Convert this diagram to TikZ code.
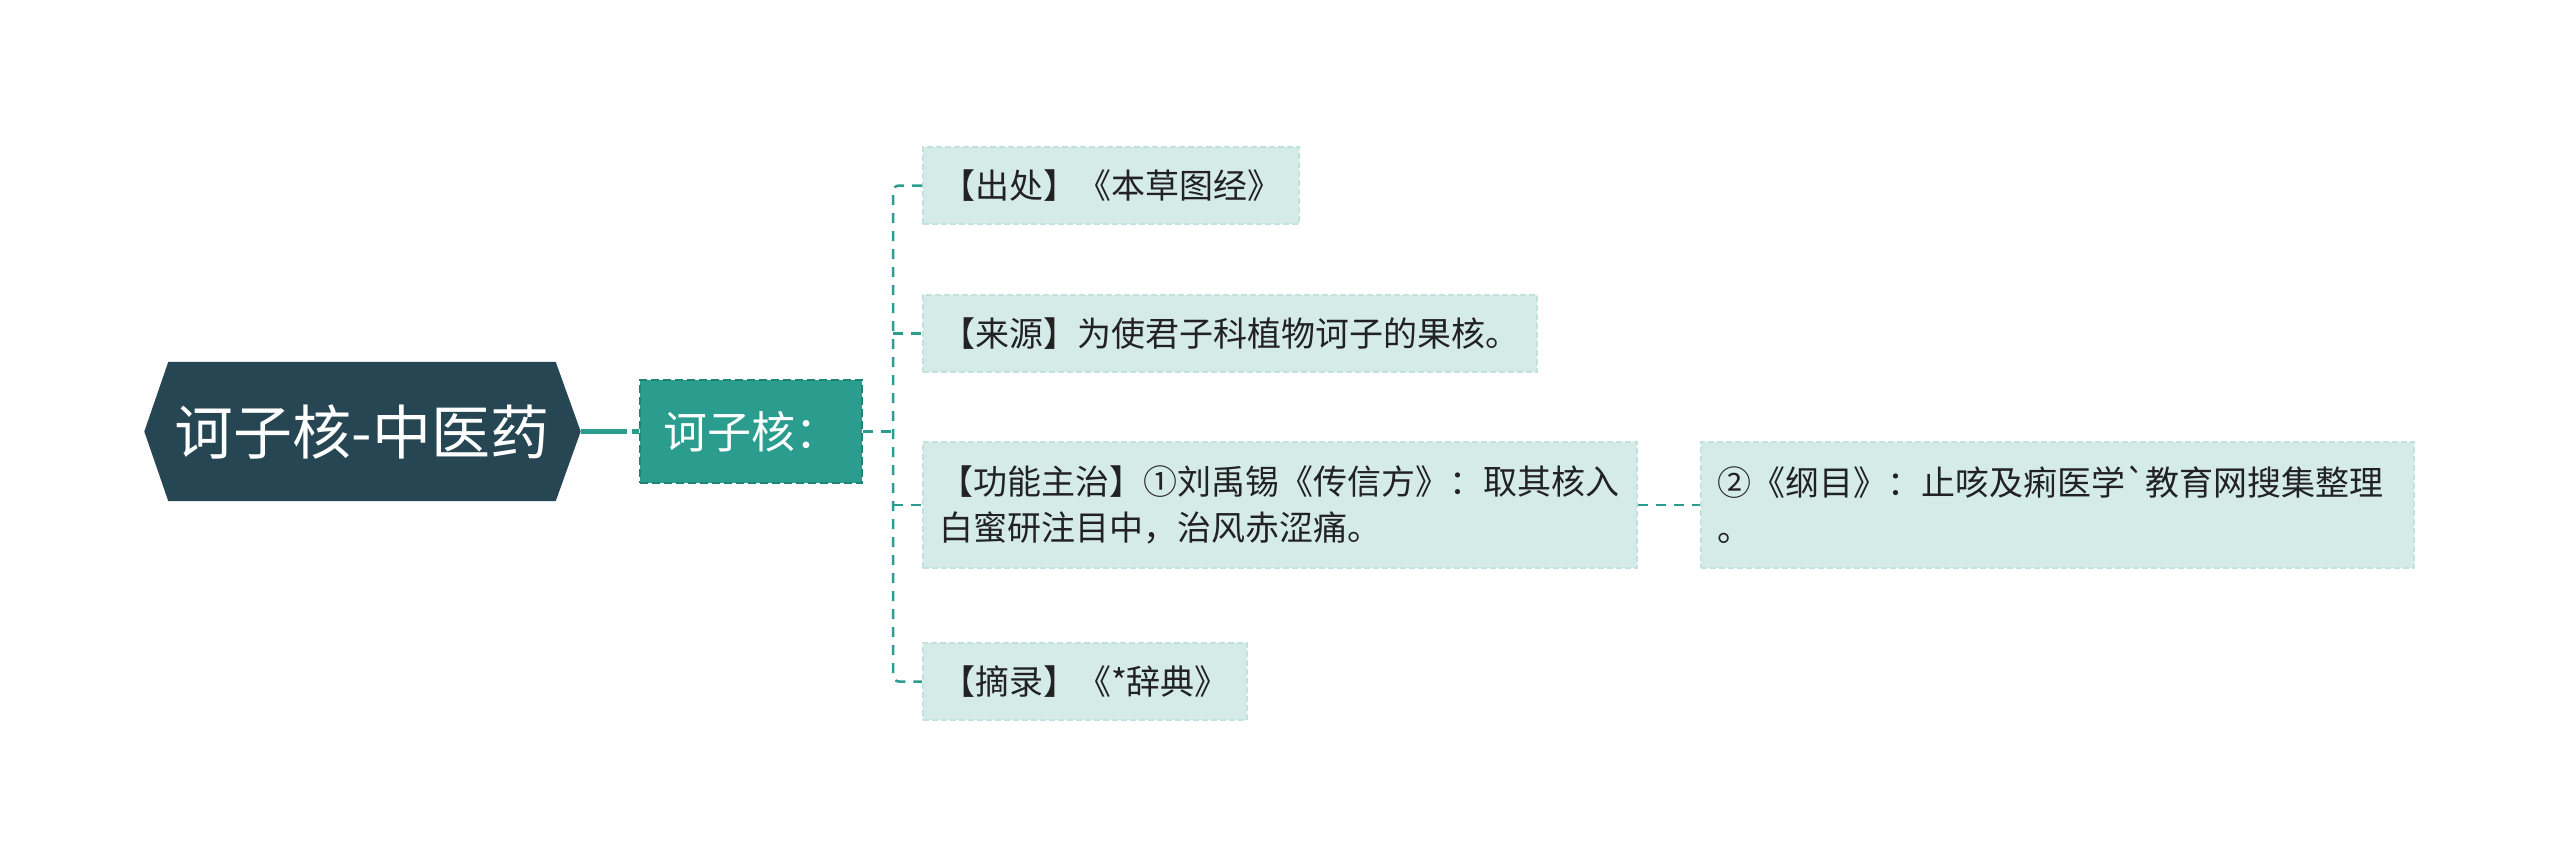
\documentclass[tikz,border=0pt]{standalone}
\usepackage{fontspec}
\setmainfont{Noto Sans CJK SC}[Ligatures=TeXOff]
\usetikzlibrary{calc,backgrounds}
\definecolor{rootc}{HTML}{264653}
\definecolor{tealc}{HTML}{2A9D8F}
\definecolor{tealdark}{HTML}{1F8376}
\definecolor{leaffill}{HTML}{D5EBE8}
\definecolor{leafdraw}{HTML}{C2E2DD}
\definecolor{leaftext}{HTML}{222222}
\tikzset{
  roottext/.style={inner sep=0pt, text=white, font=\fontsize{59}{66}\selectfont},
  midbox/.style={fill=tealc, draw=tealdark, line width=2pt, dash pattern=on 8pt off 4pt,
    text=white, font=\fontsize{44}{50}\selectfont, inner sep=0pt},
  leaf/.style={fill=leaffill, draw=leafdraw, line width=2pt, dash pattern=on 6pt off 3pt,
    text=leaftext, font=\fontsize{34}{46}\selectfont, inner xsep=18pt, inner ysep=0pt,
    minimum height=77pt, align=left},
  leafwide/.style={leaf, inner xsep=16pt, minimum height=126pt},
  conn/.style={draw=tealc, line width=2.5pt, dash pattern=on 10pt off 8pt},
  rootconn/.style={draw=tealc, line width=5pt, dash pattern=on 46pt off 5pt}
}
\begin{document}
\begin{tikzpicture}[x=1pt,y=-1pt]
\useasboundingbox (0,0) rectangle (2560,865);
\node[roottext, minimum width=387pt, minimum height=139pt] (root) at (362,431.5) {诃子核-中医药};
\coordinate (rootR) at ($(root.east)+(25,0)$);
\coordinate (rootL) at ($(root.west)+(-24,0)$);
\begin{scope}[on background layer]
  \fill[white] (0,0) rectangle (2560,865);
  \fill[rootc] (root.north west) -- (root.north east) -- (rootR) -- (root.south east)
     -- (root.south west) -- (rootL) -- cycle;
\end{scope}
\node[midbox, minimum width=222pt, minimum height=103pt] (mid) at (751,431.5) {诃子核：};
\node[leaf, anchor=west] (l1) at (922,185.5) {【出处】《本草图经》};
\node[leaf, anchor=west] (l2) at (922,333.5) {【来源】为使君子科植物诃子的果核。};
\node[leafwide, text width=682pt, anchor=west] (l3) at (922,505) {【功能主治】①刘禹锡《传信方》：取其核入\\白蜜研注目中，治风赤涩痛。};
\node[leaf, anchor=west] (l4) at (922,681.5) {【摘录】《*辞典》};
\node[leafwide, text width=681pt, anchor=west] (l5) at (1700,505) {②《纲目》：止咳及痢医学`教育网搜集整理\\。};
\coordinate (sp) at (893,431.5);
\draw[rootconn] (rootR) -- (mid.west);
\draw[conn] (mid.east) -- (sp);
\draw[conn, rounded corners=6pt] (l1.west) -| (sp) |- (l4.west);
\draw[conn] (l2.west -| sp) -- (l2.west);
\draw[conn] (l3.west -| sp) -- (l3.west);
\draw[conn] (l3.east) -- (l5.west);
\end{tikzpicture}
\end{document}
